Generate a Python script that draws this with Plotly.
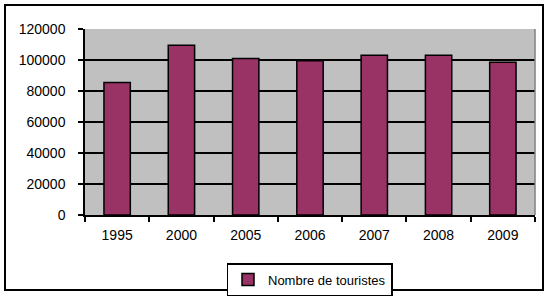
import plotly.graph_objects as go

years = ["1995", "2000", "2005", "2006", "2007", "2008", "2009"]
tourists = [85500, 109500, 101000, 99500, 103000, 103000, 98500]
series_name = "Nombre de touristes"
y_ticks = [0, 20000, 40000, 60000, 80000, 100000, 120000]

fig = go.Figure()
fig.add_trace(go.Bar(
    x=years, y=tourists, name=series_name,
    marker=dict(color="#993366", line=dict(color="black", width=1.5)),
    width=0.41, showlegend=True,
))

L, R, T, B = 85, 17, 29, 83
W, H = 552, 298
pw, ph = W - L - R, H - T - B

def px_x(x):
    return (x - L) / pw

def px_y(y):
    return (H - B - y) / ph

fig.update_layout(
    width=W, height=H,
    margin=dict(l=L, r=R, t=T, b=B, autoexpand=False),
    paper_bgcolor="white",
    plot_bgcolor="#C0C0C0",
    font=dict(family="Liberation Sans, Arial, sans-serif", size=14, color="black"),
    bargap=0.59,
    xaxis=dict(
        type="category",
        showline=True, linecolor="black", linewidth=1.5,
        ticks="outside", ticklen=5, tickcolor="black", tickwidth=1.5,
        tickson="boundaries", showgrid=False,
        ticklabelstandoff=6,
    ),
    yaxis=dict(
        range=[0, 120000],
        tickvals=y_ticks, ticktext=[str(v) for v in y_ticks],
        showline=True, linecolor="black", linewidth=1.5,
        ticks="outside", ticklen=5, tickcolor="black", tickwidth=1.5,
        showgrid=True, gridcolor="black", gridwidth=1.5,
        zeroline=False,
        ticklabelstandoff=10,
    ),
    legend=dict(
        orientation="h",
        x=px_x(309.5), xanchor="center",
        y=px_y(263), yanchor="top",
        bordercolor="black", borderwidth=1.5,
        bgcolor="white",
        font=dict(size=13),
        itemwidth=30,
        tracegroupgap=0,
    ),
    showlegend=True,
)

# Outer chart frame
fig.add_shape(
    type="rect", xref="paper", yref="paper",
    x0=px_x(5), x1=px_x(543), y0=px_y(290), y1=px_y(5),
    line=dict(color="black", width=2), layer="below",
)
# gray right edge of plot area
fig.add_shape(
    type="line", xref="paper", yref="paper",
    x0=1, x1=1, y0=0, y1=1,
    line=dict(color="#808080", width=1.5),
)

fig.write_html("out.html")
